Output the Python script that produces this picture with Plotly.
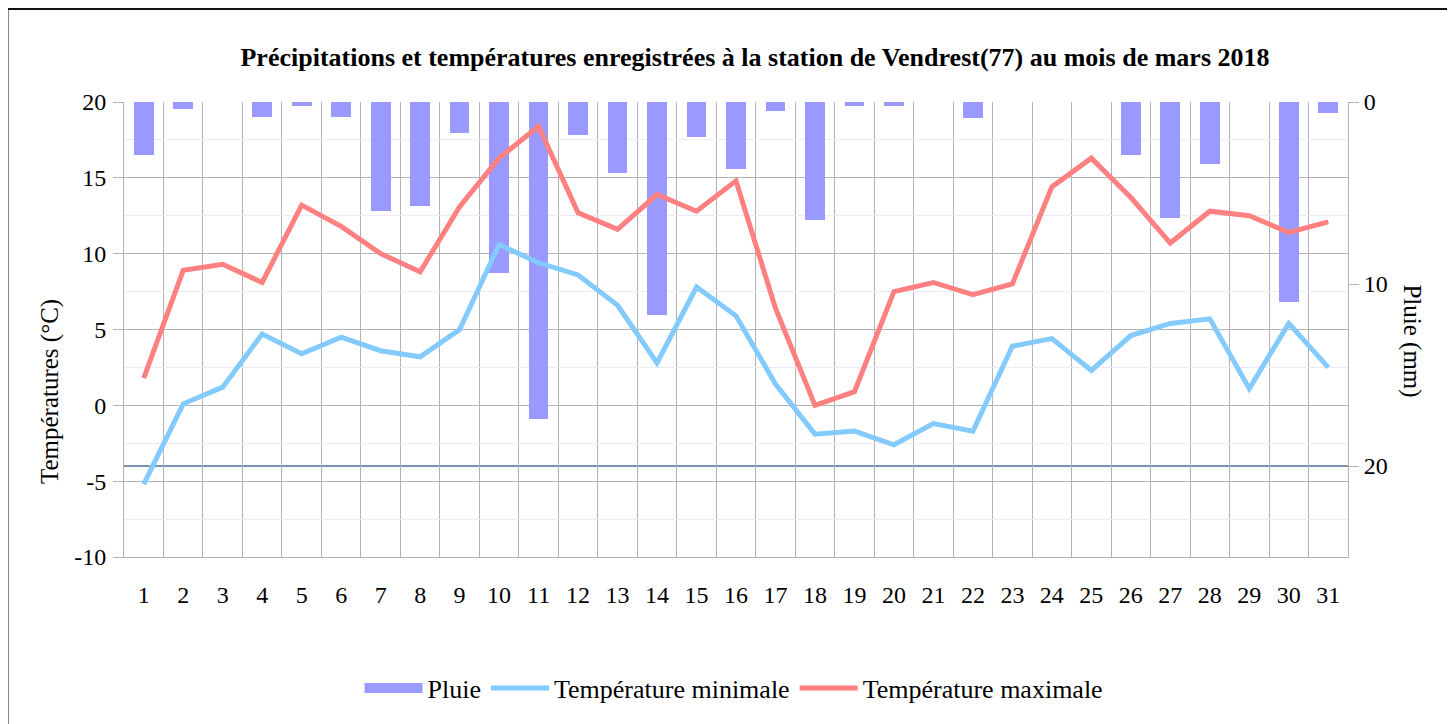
import plotly.graph_objects as go

days = list(range(1, 32))
pluie = [2.9, 0.4, 0.0, 0.8, 0.2, 0.8, 6.0, 5.7, 1.7, 9.4, 17.4, 1.8, 3.9, 11.7, 1.9, 3.7,
         0.5, 6.5, 0.2, 0.2, 0.0, 0.9, 0.0, 0.0, 0.0, 2.9, 6.4, 3.4, 0.0, 11.0, 0.6]
tmin = [-5.2, 0.1, 1.2, 4.7, 3.4, 4.5, 3.6, 3.2, 5.0, 10.6, 9.4, 8.6, 6.6, 2.8, 7.8, 5.9,
        1.4, -1.9, -1.7, -2.6, -1.2, -1.7, 3.9, 4.4, 2.3, 4.6, 5.4, 5.7, 1.1, 5.4, 2.5]
tmax = [1.8, 8.9, 9.3, 8.1, 13.2, 11.8, 10.0, 8.8, 13.1, 16.3, 18.4, 12.7, 11.6, 13.9, 12.8, 14.8,
        6.4, 0.0, 0.9, 7.5, 8.1, 7.3, 8.0, 14.4, 16.3, 13.7, 10.7, 12.8, 12.5, 11.4, 12.1]
temp_ticks = [-10, -5, 0, 5, 10, 15, 20]
rain_ticks = [0, 10, 20]

FONT = "Liberation Serif"
GRID = "#b3b3b3"
RAIN_C = "#9999FF"

fig = go.Figure()
fig.add_trace(go.Bar(x=days, y=pluie, name="Pluie", marker=dict(color=RAIN_C, line=dict(width=0)),
                     width=0.5, yaxis="y", showlegend=False))
# legend entry for the rain bars drawn as a wide rectangle-like swatch
fig.add_trace(go.Scatter(x=[None], y=[None], name="Pluie", mode="lines",
                         line=dict(color=RAIN_C, width=12), yaxis="y", hoverinfo="skip"))
fig.add_trace(go.Scatter(x=days, y=tmin, name="Température minimale", mode="lines",
                         line=dict(color="#83CAFF", width=5), yaxis="y2"))
fig.add_trace(go.Scatter(x=days, y=tmax, name="Température maximale", mode="lines",
                         line=dict(color="#FF8080", width=5), yaxis="y2"))

OFF = 8            # page body offset
PL, PR, PT, PB = 124, 1348, 102, 560   # plot area in page pixels
W, H = 1446, 716
L, T = PL - OFF, PT - OFF
pw, ph = PR - PL, PB - PT
R = W - L - pw
B = H - T - ph

def px(xp):
    return (xp - PL) / pw

def py(yp):
    return (PB - yp) / ph

fig.update_layout(
    width=W, height=H,
    margin=dict(l=L, r=R, t=T, b=B, pad=0),
    paper_bgcolor="white", plot_bgcolor="white",
    font=dict(family=FONT, size=24, color="black"),
    title=dict(text="<b>Précipitations et températures enregistrées à la station de Vendrest(77) au mois de mars 2018</b>",
               xref="container", yref="container",
               x=(755 - OFF) / W, xanchor="center", y=1 - (57 - OFF) / H, yanchor="middle",
               font=dict(family=FONT, size=26, color="black")),
    showlegend=True,
    legend=dict(orientation="h", x=px(734), xanchor="center", y=py(692), yanchor="middle",
                font=dict(family=FONT, size=26), traceorder="normal", itemwidth=58),
    bargap=0,
    xaxis=dict(range=[0.5, 31.5], tickmode="array", tickvals=days, ticktext=[str(d) for d in days],
               showgrid=False, zeroline=False, showline=True, linecolor=GRID, linewidth=1,
               ticks="", tickfont=dict(size=24), ticklabelstandoff=16,
               minor=dict(tick0=0.5, dtick=1, showgrid=True, gridcolor=GRID, gridwidth=1, ticks="")),
    yaxis=dict(side="right", range=[25, 0], tickmode="array", tickvals=rain_ticks,
               ticktext=[str(v) for v in rain_ticks],
               showgrid=False, zeroline=False, showline=True, linecolor=GRID,
               ticks="outside", ticklen=10, tickcolor=GRID, tickfont=dict(size=24)),
    yaxis2=dict(side="left", overlaying="y", range=[-10, 20], tickmode="array",
                tickvals=temp_ticks, ticktext=[str(v) for v in temp_ticks],
                showgrid=True, gridcolor=GRID, gridwidth=1, zeroline=False,
                showline=True, linecolor=GRID, ticks="outside", ticklen=10, tickcolor=GRID,
                tickfont=dict(size=24), ticklabelstandoff=2,
                minor=dict(tick0=-7.5, dtick=5, showgrid=True, gridcolor="#EAEAFA", gridwidth=1, ticks="")),
    annotations=[
        dict(text="Températures (°C)", xref="paper", yref="paper", x=px(50), y=py(394),
             textangle=-90, showarrow=False, xanchor="center", yanchor="middle", font=dict(size=25)),
        dict(text="Pluie (mm)", xref="paper", yref="paper", x=px(1412), y=py(342),
             textangle=90, showarrow=False, xanchor="center", yanchor="middle", font=dict(size=25)),
    ],
    shapes=[
        dict(type="line", xref="paper", yref="y", x0=0, x1=1, y0=20, y1=20,
             line=dict(color="#4a6f99", width=1.5), layer="below"),
        dict(type="rect", xref="paper", yref="paper", x0=px(OFF - 0.5), x1=px(OFF + W - 1),
             y0=py(OFF + H + 5), y1=py(OFF + 0.5), line=dict(color="#111111", width=2)),
    ],
)

fig.write_html("out.html")
